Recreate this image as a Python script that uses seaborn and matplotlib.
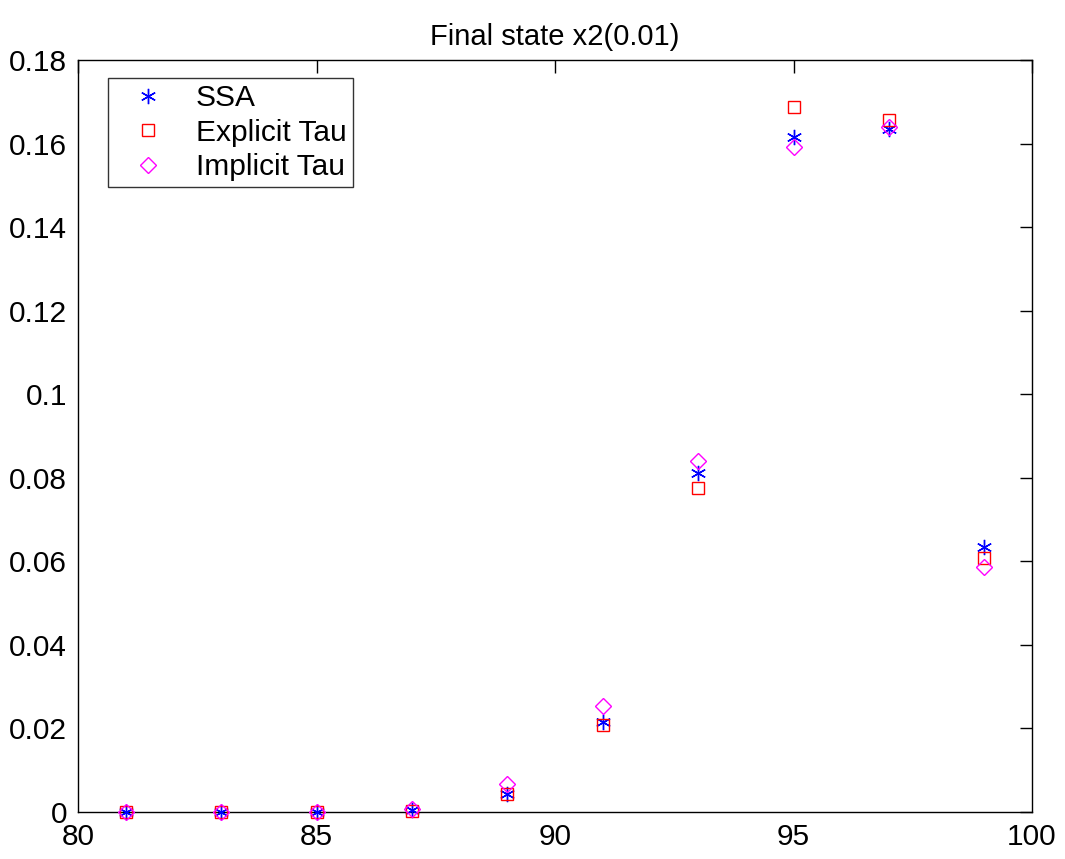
import numpy as np
import pandas as pd
import matplotlib
matplotlib.use("Agg")
import matplotlib.pyplot as plt
import seaborn as sns

sns.set_style("white")
plt.rcParams['font.family'] = ['Liberation Sans', 'DejaVu Sans']
plt.rcParams['text.color'] = 'black'

# data
x_vals = [81, 83, 85, 87, 89, 91, 93, 95, 97, 99]
ssa = [0.0, 0.0, 0.0, 0.0004, 0.0044, 0.0215, 0.0811, 0.1615, 0.1634, 0.0634]
explicit_tau = [0.0, 0.0, 0.0, 0.0003, 0.0043, 0.0208, 0.0775, 0.1688, 0.1656, 0.0607]
implicit_tau = [0.0, 0.0, 0.0, 0.0008, 0.0067, 0.0254, 0.0841, 0.1592, 0.1640, 0.0587]
series_names = ["SSA", "Explicit Tau", "Implicit Tau"]

df = pd.DataFrame({"x": x_vals, "SSA": ssa,
                   "Explicit Tau": explicit_tau, "Implicit Tau": implicit_tau})

fig = plt.figure(figsize=(10.65, 8.59), dpi=100)
ax = fig.add_axes([78/1065, 1-812/859, (1032-78)/1065, (812-60)/859])

styles = {
    "SSA": dict(marker=(6, 2, 0), markersize=11, color="blue", mec="blue", mew=1.0),
    "Explicit Tau": dict(marker="s", markersize=8, color="red", mec="red", mfc="none", mew=1.0),
    "Implicit Tau": dict(marker="D", markersize=8, color="magenta", mec="magenta", mfc="none", mew=1.0),
}
for name in series_names:
    sns.lineplot(data=df, x="x", y=name, ax=ax, linestyle="", label=name,
                 clip_on=False, zorder=3, **styles[name])

ax.set_xlim(80, 100)
ax.set_ylim(0, 0.18)
ax.set_xticks([80, 85, 90, 95, 100])
ax.set_yticks(np.arange(0, 0.181, 0.02))
ax.set_yticklabels(["0", "0.02", "0.04", "0.06", "0.08", "0.1", "0.12",
                    "0.14", "0.16", "0.18"])
ax.tick_params(direction="in", length=9, width=1, labelsize=21.5,
               top=True, right=True, colors="black")
ax.tick_params(axis="y", pad=8)
ax.tick_params(axis="x", pad=8)
for sp in ax.spines.values():
    sp.set_color("black")
    sp.set_linewidth(1)
ax.set_xlabel("")
ax.set_ylabel("")
ax.set_title("Final state x2(0.01)", fontsize=21, pad=11, color="black")

leg = ax.legend(loc="upper left", bbox_to_anchor=(30/954, 1-18/752),
                borderaxespad=0, fontsize=21.5, frameon=True, fancybox=False,
                handletextpad=0.5, labelspacing=0.22, borderpad=0.2,
                handlelength=2.25)
leg.get_frame().set_edgecolor("black")
leg.get_frame().set_linewidth(1)
for t in leg.get_texts():
    t.set_color("black")

fig.savefig("out.png", dpi=100)
